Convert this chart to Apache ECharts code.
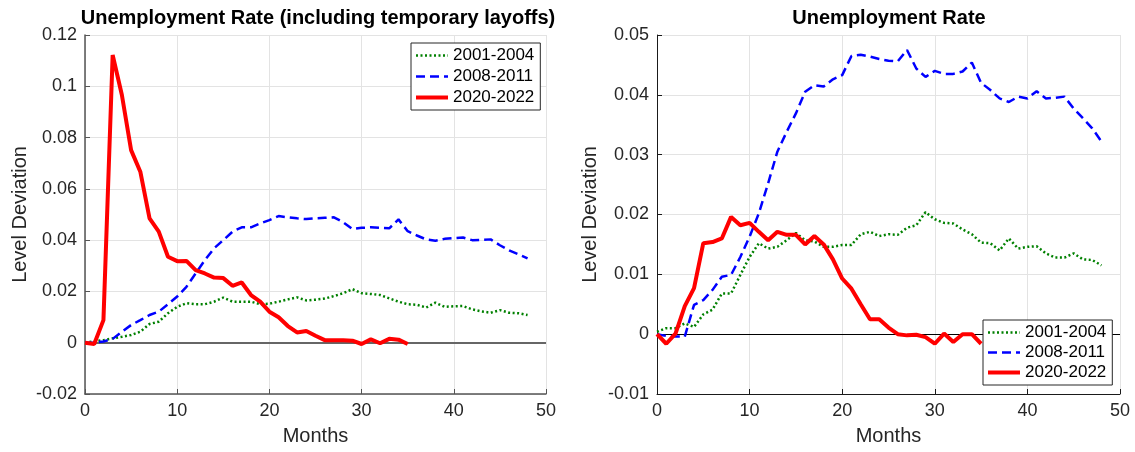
<!DOCTYPE html>
<html>
<head>
<meta charset="utf-8">
<title>Unemployment Rate</title>
<script src="https://cdn.jsdelivr.net/npm/echarts@6/dist/echarts.min.js"></script>
<style>
  html, body { margin: 0; padding: 0; background: #fff; }
  #chart { width: 1135px; height: 452px; }
</style>
</head>
<body>
<div id="chart"></div>
<script>
// Months since the start of each recession
const months = Array.from({ length: 49 }, (_, i) => i);

const seriesNames = ['2001-2004', '2008-2011', '2020-2022'];

// Left panel: unemployment rate including temporary layoffs (level deviation)
const tempLayoffs2001 = [0, 0.0005, 0.001, 0.0017, 0.0023, 0.003, 0.0043, 0.0073, 0.0082, 0.0115,
  0.014, 0.0154, 0.015, 0.015, 0.016, 0.0176, 0.016, 0.016, 0.016, 0.015,
  0.0152, 0.016, 0.0169, 0.0177, 0.0165, 0.0168, 0.0172, 0.0182, 0.0193, 0.0209,
  0.0193, 0.019, 0.0186, 0.0173, 0.016, 0.015, 0.0148, 0.0137, 0.0156, 0.014,
  0.0142, 0.0143, 0.013, 0.0122, 0.0117, 0.0127, 0.0117, 0.0115, 0.0108];
const tempLayoffs2008 = [0, 0, 0.0005, 0.0015, 0.0043, 0.0069, 0.0088, 0.0108, 0.0121, 0.015,
  0.018, 0.0218, 0.027, 0.0322, 0.0368, 0.040, 0.0433, 0.045, 0.045, 0.0465,
  0.0478, 0.0494, 0.0489, 0.0485, 0.0482, 0.0485, 0.0487, 0.0489, 0.047, 0.0443,
  0.0448, 0.045, 0.0448, 0.0446, 0.0481, 0.0435, 0.0418, 0.0403, 0.0398, 0.0405,
  0.0408, 0.041, 0.040, 0.0401, 0.0403, 0.038, 0.036, 0.0345, 0.0329];
const tempLayoffs2020 = [0, -0.0005, 0.0088, 0.1122, 0.0966, 0.0751, 0.0667, 0.0485, 0.0433, 0.0335,
  0.0318, 0.0319, 0.0283, 0.027, 0.0254, 0.0252, 0.0222, 0.0235, 0.0186, 0.016,
  0.0121, 0.0099, 0.0065, 0.004, 0.0046, 0.0027, 0.001, 0.001, 0.001, 0.0008,
  -0.0005, 0.0013, -0.0002, 0.0015, 0.0012, -0.0005];

// Right panel: unemployment rate (level deviation)
const rate2001 = [0.0004, 0.001, 0.001, 0.0018, 0.0012, 0.0033, 0.0041, 0.0068, 0.0068, 0.0099,
  0.0129, 0.0152, 0.0143, 0.0146, 0.0157, 0.0169, 0.0157, 0.0155, 0.0146, 0.0146,
  0.0149, 0.0149, 0.0167, 0.0171, 0.0164, 0.0167, 0.0166, 0.0178, 0.0182, 0.0204,
  0.0192, 0.0186, 0.0185, 0.0175, 0.0167, 0.0153, 0.0152, 0.014, 0.016, 0.0143,
  0.0146, 0.0147, 0.0135, 0.0128, 0.0128, 0.0135, 0.0125, 0.0124, 0.0115];
const rate2008 = [0, -0.0003, -0.0004, -0.0004, 0.0049, 0.0057, 0.0074, 0.0096, 0.0099, 0.0129,
  0.0163, 0.0202, 0.0252, 0.0305, 0.0338, 0.0369, 0.0405, 0.0416, 0.0414, 0.0426,
  0.0433, 0.0465, 0.0467, 0.0464, 0.046, 0.0457, 0.0456, 0.0475, 0.0444, 0.043,
  0.044, 0.0435, 0.0435, 0.0439, 0.0454, 0.042, 0.0408, 0.0394, 0.0388, 0.0397,
  0.0394, 0.0406, 0.0394, 0.0395, 0.0397, 0.0377, 0.0361, 0.0344, 0.0322];
const rate2020 = [0, -0.0016, 0.0001, 0.0047, 0.0077, 0.0152, 0.0154, 0.016, 0.0196, 0.0182,
  0.0186, 0.0171, 0.0157, 0.0171, 0.0166, 0.0166, 0.015, 0.0164, 0.015, 0.0125,
  0.0093, 0.0076, 0.005, 0.0025, 0.0025, 0.0011, 0, -0.0002, -0.0001, -0.0005,
  -0.0016, 0.0001, -0.0013, 0, 0, -0.0016];

const xTicks = { min: 0, max: 50, interval: 10 };
const leftYTicks = { min: -0.02, max: 0.12, interval: 0.02 };
const rightYTicks = { min: -0.01, max: 0.05, interval: 0.01 };

const FONT = '"Liberation Sans", Helvetica, Arial, sans-serif';
const INK = '#262626';

const pairs = (vals) => vals.map((v, i) => [months[i], v]);
const fmt = (v) => String(+v.toFixed(4));

function xAxis(gridIndex, axisColor, axisWidth) {
  return {
    type: 'value', gridIndex, ...xTicks,
    name: 'Months', nameLocation: 'middle', nameGap: 32,
    nameTextStyle: { fontFamily: FONT, fontSize: 20, color: INK },
    axisLine: { show: true, onZero: false, lineStyle: { color: axisColor, width: axisWidth } },
    axisTick: { show: true, inside: true, length: 5, lineStyle: { color: axisColor } },
    axisLabel: { fontFamily: FONT, fontSize: 18, color: INK, margin: 8 },
    splitLine: { show: true, lineStyle: { color: '#e3e3e3', width: 1 } }
  };
}

function yAxis(gridIndex, ticks, axisColor, axisWidth, gap) {
  return {
    type: 'value', gridIndex, ...ticks,
    name: 'Level Deviation', nameLocation: 'middle', nameGap: gap, nameRotate: 90,
    nameTextStyle: { fontFamily: FONT, fontSize: 20, color: INK },
    axisLine: { show: true, onZero: false, lineStyle: { color: axisColor, width: axisWidth } },
    axisTick: { show: true, inside: true, length: 5, lineStyle: { color: axisColor } },
    axisLabel: { fontFamily: FONT, fontSize: 18, color: INK, margin: 8, formatter: fmt },
    splitLine: { show: true, lineStyle: { color: '#e3e3e3', width: 1 } }
  };
}

function panelSeries(idx, d2001, d2008, d2020, zeroColor, zeroWidth) {
  return [
    {
      name: seriesNames[0], type: 'line', xAxisIndex: idx, yAxisIndex: idx,
      data: pairs(d2001), symbol: 'none', z: 3,
      lineStyle: { color: '#008000', width: 2.5, type: [2, 2.5] },
      itemStyle: { color: '#008000' },
      markLine: {
        silent: true, symbol: 'none', animation: false, z: 1,
        label: { show: false },
        lineStyle: { color: zeroColor, width: zeroWidth, type: 'solid' },
        data: [{ yAxis: 0 }]
      }
    },
    {
      name: seriesNames[1], type: 'line', xAxisIndex: idx, yAxisIndex: idx,
      data: pairs(d2008), symbol: 'none', z: 4,
      lineStyle: { color: '#0000ff', width: 2.5, type: [9, 5] },
      itemStyle: { color: '#0000ff' }
    },
    {
      name: seriesNames[2], type: 'line', xAxisIndex: idx, yAxisIndex: idx,
      data: pairs(d2020), symbol: 'none', z: 5,
      lineStyle: { color: '#ff0000', width: 4, type: 'solid' },
      itemStyle: { color: '#ff0000' }
    }
  ];
}

function legend(left, top, gap) {
  return {
    data: seriesNames, orient: 'vertical', left, top,
    itemWidth: 32, itemHeight: 14, itemGap: gap,
    padding: [4, 6, 4, 3],
    backgroundColor: '#fff', borderColor: INK, borderWidth: 1, borderRadius: 0,
    selectedMode: false,
    // keys show only the line sample, drawn with the series' own width
    itemStyle: { opacity: 0 },
    lineStyle: { width: 'inherit' },
    textStyle: { fontFamily: FONT, fontSize: 17, color: '#000' }
  };
}

const chart = echarts.init(document.getElementById('chart'), null, { renderer: 'canvas' });
chart.setOption({
  animation: false,
  backgroundColor: '#fff',
  grid: [
    { left: 85, right: 589, top: 35, bottom: 58 },
    { left: 657, right: 15, top: 35, bottom: 58 }
  ],
  xAxis: [xAxis(0, '#555', 1.5), xAxis(1, '#1a1a1a', 1)],
  yAxis: [yAxis(0, leftYTicks, '#555', 1.5, 55), yAxis(1, rightYTicks, '#1a1a1a', 1, 57)],
  legend: [legend(411, 43, 4), legend(983, 320, 3)],
  graphic: [
    {
      type: 'text', x: 318, y: 8,
      style: { text: 'Unemployment Rate (including temporary layoffs)', textAlign: 'center',
        font: 'bold 20px ' + FONT, fill: '#000' }
    },
    {
      type: 'text', x: 889, y: 8,
      style: { text: 'Unemployment Rate', textAlign: 'center',
        font: 'bold 20px ' + FONT, fill: '#000' }
    }
  ],
  series: [
    ...panelSeries(0, tempLayoffs2001, tempLayoffs2008, tempLayoffs2020, '#666', 2),
    ...panelSeries(1, rate2001, rate2008, rate2020, '#000', 1)
  ]
});
</script>
</body>
</html>
